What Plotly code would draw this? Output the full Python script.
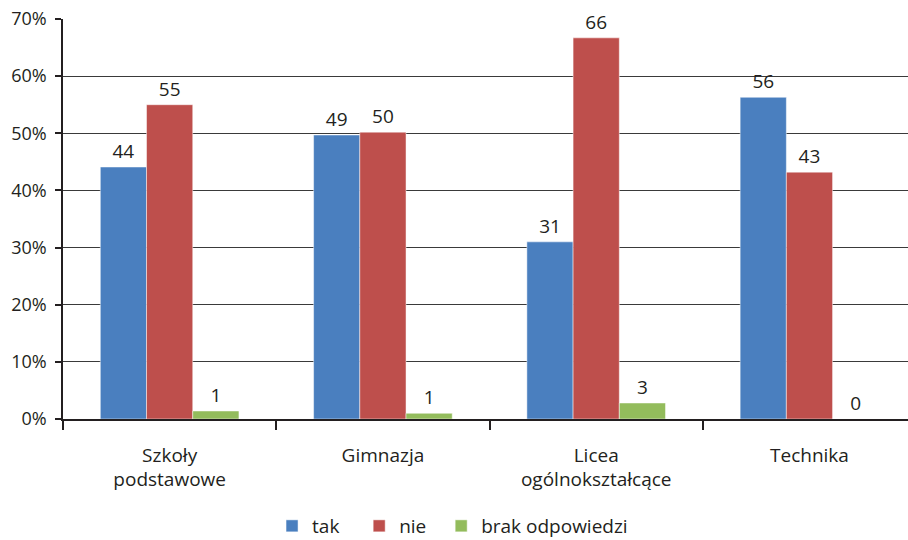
import plotly.graph_objects as go

categories = ["Szkoły<br>podstawowe", "Gimnazja", "Licea<br>ogólnokształcące", "Technika"]
tak_values = [44.1, 49.7, 31.0, 56.3]
nie_values = [55.0, 50.2, 66.7, 43.2]
brak_values = [1.4, 1.0, 2.8, 0.0]
tak_labels = ["44", "49", "31", "56"]
nie_labels = ["55", "50", "66", "43"]
brak_labels = ["1", "1", "3", "0"]
series_names = ["tak", "nie", "brak odpowiedzi"]
y_ticks = [0, 10, 20, 30, 40, 50, 60, 70]

FONT = "Open Sans"
FS = 19
TXT = "#231F20"
NB = "\u00a0"
legend_pad = [NB * 3, NB * 2, ""]

fig = go.Figure()
for name, pad, vals, labs, col in [
    (series_names[0], legend_pad[0], tak_values, tak_labels, "#4A7FBF"),
    (series_names[1], legend_pad[1], nie_values, nie_labels, "#BE4F4C"),
    (series_names[2], legend_pad[2], brak_values, brak_labels, "#93BC5C"),
]:
    fig.add_trace(go.Bar(
        x=categories, y=vals, name=name + pad, text=labs,
        textposition="outside", cliponaxis=False,
        textfont=dict(family=FONT, size=FS, color=TXT),
        marker=dict(color=col, line=dict(color="rgba(255,255,255,0.6)", width=0.8)),
    ))

fig.update_layout(
    width=908, height=540,
    margin=dict(l=63, r=0, t=19, b=121),
    paper_bgcolor="white", plot_bgcolor="white",
    barmode="group", bargap=0.35, bargroupgap=0,
    font=dict(family=FONT, size=FS, color=TXT),
    showlegend=True,
    legend=dict(orientation="h", x=0.461, xanchor="center", yref="container", y=14 / 540, yanchor="middle",
                font=dict(family=FONT, size=FS, color=TXT), itemwidth=30, traceorder="normal"),
)
fig.update_xaxes(
    range=[-0.5, 3.462], showline=True, linecolor="#231F20", linewidth=1.5,
    ticks="outside", tickson="boundaries", ticklen=9, tickcolor="#231F20", tickwidth=1.5,
    tickfont=dict(family=FONT, size=FS, color=TXT), showgrid=False,
    automargin=False, ticklabelstandoff=18,
)
fig.update_yaxes(
    range=[0, 70], tickvals=y_ticks, ticktext=[f"{v}%" for v in y_ticks],
    showline=True, linecolor="#231F20", linewidth=1.5,
    ticks="outside", ticklen=6, tickcolor="#231F20", tickwidth=1.5,
    showgrid=True, gridcolor="#3a3a3a", gridwidth=1.2, zeroline=False,
    tickfont=dict(family=FONT, size=18, color=TXT), automargin=False,
    ticklabeloverflow="allow", ticklabelstandoff=5,
)
fig.write_html("out.html", config={"displayModeBar": False},
               post_script="document.body.style.margin='0';")
